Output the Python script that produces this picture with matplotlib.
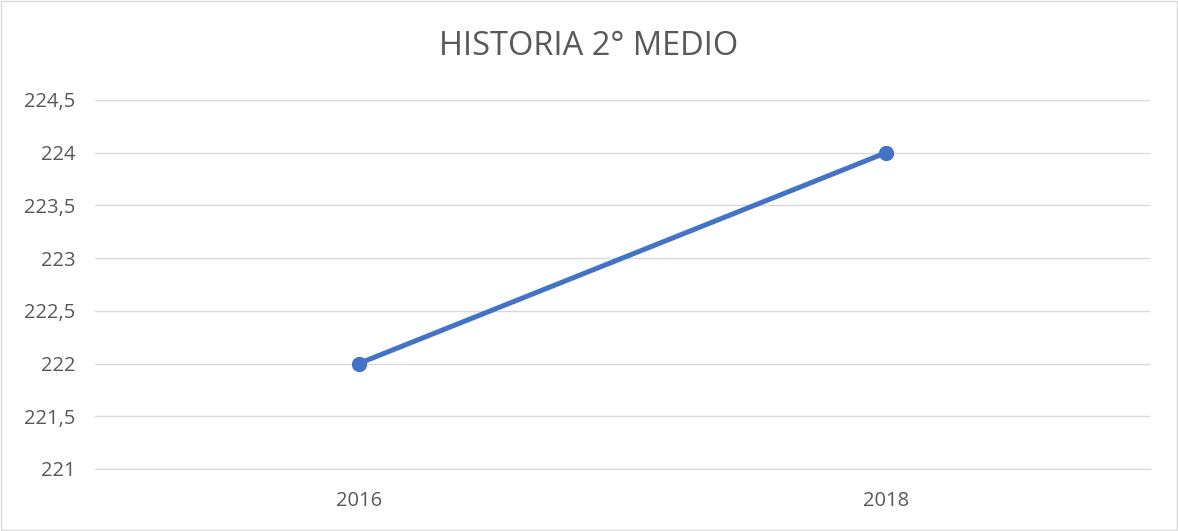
import matplotlib
matplotlib.use("Agg")
import matplotlib.pyplot as plt
import matplotlib.ticker as mticker

# datos
anios = ["2016", "2018"]
puntaje = [222, 224]
y_ticks = [221, 221.5, 222, 222.5, 223, 223.5, 224, 224.5]

plt.rcParams['font.family'] = ['Open Sans', 'DejaVu Sans']

fig = plt.figure(figsize=(11.78, 5.31), dpi=100)
ax = fig.add_axes([0.0806, 0.1168, 0.8954, 0.6949])

x = list(range(len(anios)))
ax.plot(x, puntaje, color='#4472C4', linewidth=3.6, marker='o', markersize=10,
        solid_capstyle='round', zorder=3)

ax.set_xlim(-0.5, len(anios) - 0.5)
ax.set_ylim(221, 224.5)
ax.set_xticks(x)
ax.set_xticklabels(anios)
ax.set_yticks(y_ticks)
ax.yaxis.set_major_formatter(mticker.FuncFormatter(
    lambda v, p: (f"{v:g}").replace('.', ',')))

ax.grid(axis='y', color='#D9D9D9', linewidth=1)
ax.set_axisbelow(True)
for s in ['top', 'right', 'left']:
    ax.spines[s].set_visible(False)
ax.spines['bottom'].set_color('#D9D9D9')
ax.tick_params(axis='both', length=0, labelsize=14.5, colors='#595959')
ax.tick_params(axis='x', pad=16)
ax.tick_params(axis='y', pad=14)

fig.text(0.5, 0.912, "HISTORIA 2° MEDIO", ha='center', va='center',
         fontsize=23.5, color='#595959')

# borde del gráfico
fig.patches.append(plt.Rectangle((0.001, 0.001), 0.998, 0.998, transform=fig.transFigure,
                                 fill=False, edgecolor='#D9D9D9', linewidth=1))

fig.savefig("out.png", dpi=100)
